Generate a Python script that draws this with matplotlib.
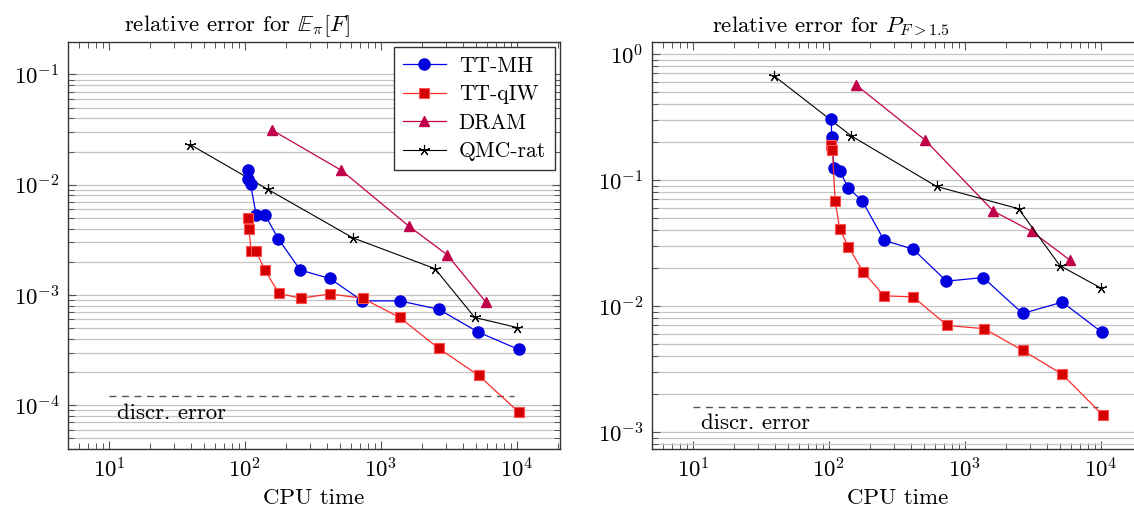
import matplotlib
matplotlib.use("Agg")
import matplotlib.pyplot as plt
from matplotlib.ticker import LogLocator, NullFormatter, LogFormatterMathtext

plt.rcParams['font.family'] = 'serif'
plt.rcParams['font.serif'] = ['cmr10', 'DejaVu Serif']
plt.rcParams['mathtext.fontset'] = 'cm'
plt.rcParams['axes.formatter.use_mathtext'] = True

# ---- data: left panel (E_pi[F]) ----
mh_t_L = [105, 105, 110, 121, 141, 176, 255, 420, 730, 1372, 2655, 5200, 10280]
mh_e_L = [0.0135, 0.0112, 0.0101, 0.00527, 0.00527, 0.00322, 0.00168, 0.00141,
          0.000883, 0.000883, 0.000741, 0.000459, 0.00032]
qiw_t_L = [105, 107, 111, 121, 140, 178, 257, 420, 733, 1372, 2660, 5230, 10350]
qiw_e_L = [0.00499, 0.00394, 0.00249, 0.00249, 0.00168, 0.00103, 0.000933, 0.00102,
           0.000933, 0.000624, 0.000327, 0.000186, 0.0000859]
dram_t_L = [158, 511, 1607, 3057, 5888]
dram_e_L = [0.0313, 0.0135, 0.00419, 0.00232, 0.000865]
qmc_t_L = [39.6, 147, 622, 2494, 4890, 10000]
qmc_e_L = [0.0231, 0.00908, 0.00329, 0.00173, 0.000624, 0.000506]
discr_L = 1.22e-4

# ---- data: right panel (P_{F>1.5}) ----
mh_t_R = [104, 104.6, 109, 120, 139, 176, 254, 416, 731, 1361, 2650, 5190, 10170]
mh_e_R = [0.302, 0.218, 0.1245, 0.117, 0.0859, 0.0678, 0.0331, 0.0281,
          0.01568, 0.01675, 0.00869, 0.01069, 0.00615]
qiw_t_R = [103, 106, 111, 120, 139, 178, 254, 416, 740, 1383, 2650, 5190, 10330]
qiw_e_R = [0.189, 0.172, 0.0682, 0.0407, 0.0293, 0.0187, 0.0120, 0.01177,
           0.00698, 0.00658, 0.00443, 0.00286, 0.00135]
dram_t_R = [157, 507, 1614, 3090, 5915]
dram_e_R = [0.569, 0.2075, 0.0565, 0.039, 0.0230]
qmc_t_R = [39.3, 146, 618, 2476, 4990, 9930]
qmc_e_R = [0.670, 0.2228, 0.0885, 0.0589, 0.0208, 0.01387]
discr_R = 1.58e-3

discr_x = [10, 9500]
labels = ['TT-MH', 'TT-qIW', 'DRAM', 'QMC-rat']
titles = [r'relative error for $\mathbb{E}_\pi[F]$', r'relative error for $P_{F>1.5}$']

C_BLUE = '#0000ee'
C_RED_LINE = '#ff2a2a'
C_RED_FACE = '#d40000'
C_RED_EDGE = '#ff5050'
C_DRAM = '#c0004a'

FS = 16.5

fig = plt.figure(figsize=(11.34, 5.07), dpi=100)
W, H = 1134, 507
axL = fig.add_axes([68 / W, 1 - 449 / H, 492 / W, 407 / H])
axR = fig.add_axes([652 / W, 1 - 449 / H, 492 / W, 407 / H])


def draw(ax, d, ylim, title, title_x, discr, tx, ty, legend):
    (mt, me), (qt, qe), (dt, de), (ct, ce) = d
    ax.set_xscale('log')
    ax.set_yscale('log')
    ax.plot(mt, me, color=C_BLUE, lw=0.9, marker='o', ms=8, mfc='#0000dd', mec='#0000dd',
            label=labels[0], zorder=4)
    ax.plot(qt, qe, color=C_RED_LINE, lw=0.9, marker='s', ms=7.5, mfc=C_RED_FACE, mec=C_RED_EDGE,
            mew=0.8, label=labels[1], zorder=5)
    ax.plot(dt, de, color=C_DRAM, lw=0.9, marker='^', ms=7, mfc=C_DRAM, mec=C_DRAM,
            label=labels[2], zorder=3)
    ax.plot(ct, ce, color='black', lw=0.8, marker=(5, 2, 0), ms=8, mew=0.8,
            label=labels[3], zorder=3)
    ax.plot(discr_x, [discr, discr], color='#555555', lw=1.0, ls=(0, (5, 4)), zorder=2)
    ax.text(tx, ty, 'discr. error', fontsize=FS, va='center', ha='left')
    ax.set_xlim(5, 2.07e4)
    ax.set_ylim(*ylim)
    ax.xaxis.set_major_locator(LogLocator(base=10, numticks=10))
    ax.xaxis.set_minor_locator(LogLocator(base=10, subs=range(2, 10), numticks=20))
    ax.xaxis.set_minor_formatter(NullFormatter())
    ax.yaxis.set_major_locator(LogLocator(base=10, numticks=10))
    ax.yaxis.set_minor_locator(LogLocator(base=10, subs=range(2, 10), numticks=20))
    ax.yaxis.set_minor_formatter(NullFormatter())
    ax.xaxis.set_major_formatter(LogFormatterMathtext())
    ax.yaxis.set_major_formatter(LogFormatterMathtext())
    ax.grid(True, which='both', axis='y', color='#c4c4c4', lw=0.9, zorder=0)
    ax.set_axisbelow(True)
    ax.tick_params(which='both', direction='in', top=True, right=True, color='#555555',
                   labelsize=FS)
    ax.tick_params(axis='x', pad=6)
    ax.tick_params(axis='y', pad=6)
    ax.tick_params(which='major', length=6, width=0.8)
    ax.tick_params(which='minor', length=4, width=0.7)
    for s in ax.spines.values():
        s.set_color('#333333')
        s.set_linewidth(1.0)
    ax.set_title(title, fontsize=FS, pad=8, x=title_x)
    ax.set_xlabel('CPU time', fontsize=FS, va='center')
    ax.xaxis.set_label_coords(0.5, -(498 - 449) / 407)
    if legend:
        leg = ax.legend(loc='upper right', fontsize=15.5, frameon=True, fancybox=False,
                        edgecolor='#333333', framealpha=1, borderaxespad=0.25,
                        handlelength=2.0, labelspacing=0.42, borderpad=0.4, handletextpad=0.6)
        leg.get_frame().set_linewidth(1.0)


draw(axL, [(mh_t_L, mh_e_L), (qiw_t_L, qiw_e_L), (dram_t_L, dram_e_L), (qmc_t_L, qmc_e_L)],
     (4e-5, 0.197), titles[0], (237 - 68) / 492, discr_L, 11.5, 8.4e-5, True)
draw(axR, [(mh_t_R, mh_e_R), (qiw_t_R, qiw_e_R), (dram_t_R, dram_e_R), (qmc_t_R, qmc_e_R)],
     (7.3e-4, 1.24), titles[1], (831 - 652) / 492, discr_R, 11.5, 1.16e-3, False)

fig.savefig('out.png', dpi=100)
